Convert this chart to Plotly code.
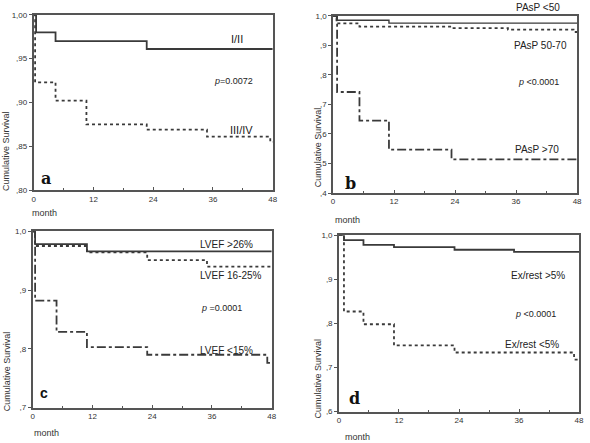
import plotly.graph_objects as go

W, H = 590, 443

# ---------------- data ----------------
# Panel a
a_t_12 = [0, 0.5, 4.4, 22.7, 48]
a_s_12 = [1.0, 0.980, 0.970, 0.961, 0.961]
a_t_34 = [0, 0.3, 4.4, 10.6, 22.7, 34.8, 47.5, 48]
a_s_34 = [1.0, 0.923, 0.902, 0.875, 0.869, 0.861, 0.855, 0.855]
# Panel b
b_t_lt50 = [0, 0.7, 11.0, 48]
b_s_lt50 = [1.0, 0.985, 0.975, 0.975]
b_t_5070 = [0, 0.7, 5.2, 23.3, 34.4, 47.3, 48]
b_s_5070 = [1.0, 0.974, 0.963, 0.958, 0.953, 0.945, 0.945]
b_t_gt70 = [0, 0.8, 5.2, 11.0, 23.3, 48]
b_s_gt70 = [1.0, 0.742, 0.645, 0.547, 0.514, 0.514]
# Panel c
c_t_gt26 = [0, 0.5, 10.9, 48]
c_s_gt26 = [1.0, 0.978, 0.966, 0.966]
c_t_1625 = [0, 0.5, 10.9, 23.0, 35.0, 48]
c_s_1625 = [1.0, 0.975, 0.964, 0.951, 0.940, 0.940]
c_t_lt15 = [0, 0.5, 4.8, 10.9, 23.0, 47.1, 48]
c_s_lt15 = [1.0, 0.882, 0.829, 0.803, 0.790, 0.776, 0.776]
# Panel d
d_t_gt5 = [0, 1.0, 4.9, 11.0, 23.1, 35.0, 48]
d_s_gt5 = [1.0, 0.989, 0.978, 0.973, 0.967, 0.962, 0.962]
d_t_lt5 = [0, 1.0, 4.9, 11.0, 23.1, 47.0, 48]
d_s_lt5 = [1.0, 0.827, 0.798, 0.750, 0.734, 0.718, 0.718]

x_ticks = [0, 12, 24, 36, 48]
a_yticks = [0.80, 0.85, 0.90, 0.95, 1.00]
a_ylabels = [",80", ",85", ",90", ",95", "1,00"]
b_yticks = [0.4, 0.5, 0.6, 0.7, 0.8, 0.9, 1.0]
b_ylabels = [",4", ",5", ",6", ",7", ",8", ",9", "1,0"]
c_yticks = [0.7, 0.8, 0.9, 1.0]
c_ylabels = [",7", ",8", ",9", "1,0"]
d_yticks = [0.6, 0.7, 0.8, 0.9, 1.0]
d_ylabels = [",6", ",7", ",8", ",9", "1,0"]

# ---------------- figure ----------------
LC = "#3a3a3a"
fig = go.Figure()

def step(t, s, dash, ax, width=1.8):
    xa = "x" if ax == 1 else f"x{ax}"
    ya = "y" if ax == 1 else f"y{ax}"
    fig.add_trace(go.Scatter(x=t, y=s, mode="lines", line_shape="hv",
                             line=dict(color=LC, width=width, dash=dash),
                             xaxis=xa, yaxis=ya, showlegend=False,
                             hoverinfo="skip", cliponaxis=False))

step(a_t_12, a_s_12, "solid", 1)
step(a_t_34, a_s_34, "dot", 1)
step(b_t_lt50, b_s_lt50, "solid", 2, 1.4)
step(b_t_5070, b_s_5070, "dot", 2)
step(b_t_gt70, b_s_gt70, "dashdot", 2)
step(c_t_gt26, c_s_gt26, "solid", 3)
step(c_t_1625, c_s_1625, "dot", 3)
step(c_t_lt15, c_s_lt15, "dashdot", 3)
step(d_t_gt5, d_s_gt5, "solid", 4)
step(d_t_lt5, d_s_lt5, "dot", 4)

def px_dom(x0, x1, y0, y1):
    return [x0 / W, x1 / W], [1 - y1 / H, 1 - y0 / H]

doms = [px_dom(32, 274, 11, 190), px_dom(335, 582, 12, 193),
        px_dom(31, 273, 232, 412), px_dom(341, 584, 236, 416)]
yinfo = [(a_yticks, a_ylabels), (b_yticks, b_ylabels),
         (c_yticks, c_ylabels), (d_yticks, d_ylabels)]

tickfont = dict(family="Liberation Sans, Arial", size=8, color="#333")
layout = dict(width=W, height=H, margin=dict(l=0, r=0, t=0, b=0),
              paper_bgcolor="white", plot_bgcolor="white")
for i, ((xd, yd), (yt, yl)) in enumerate(zip(doms, yinfo), start=1):
    k = "" if i == 1 else str(i)
    layout[f"xaxis{k}"] = dict(domain=xd, range=[0, 48], anchor=f"y{k}",
                               tickvals=x_ticks, ticks="inside", ticklen=3,
                               tickcolor="#555", showgrid=False, zeroline=False,
                               showline=True, mirror=True, linecolor="#555",
                               linewidth=1.6, tickfont=tickfont,
                               minor=dict(tickvals=[6, 18, 30, 42], ticks="inside",
                                          ticklen=2, tickcolor="#555"))
    layout[f"yaxis{k}"] = dict(domain=yd, range=[yt[0], yt[-1]], anchor=f"x{k}",
                               tickvals=yt, ticktext=yl, ticks="outside",
                               ticklen=3, tickcolor="#555", showgrid=False,
                               zeroline=False, showline=True, mirror=True,
                               linecolor="#555", linewidth=1.6, tickfont=tickfont)
fig.update_layout(**layout)

ann = []
lab = dict(family="Liberation Sans, Arial", size=10, color="#222")
pf = dict(family="Liberation Sans, Arial", size=9, color="#222")

def A(ax, x, y, text, font):
    k = "" if ax == 1 else str(ax)
    ann.append(dict(x=x, y=y, xref=f"x{k}", yref=f"y{k}", text=text,
                    showarrow=False, font=font, xanchor="center", yanchor="middle"))

def P(x, y, text, font, angle=0, xanchor="center"):
    ann.append(dict(x=x / W, y=1 - y / H, xref="paper", yref="paper", text=text,
                    showarrow=False, font=font, textangle=angle,
                    xanchor=xanchor, yanchor="middle"))

serif_b = dict(family="DejaVu Serif, Liberation Serif", size=16, color="#111")
# panel a
A(1, 40.9, 0.972, "I/II", dict(lab, size=11))
A(1, 40.1, 0.924, "<i>p</i>=0.0072", pf)
A(1, 41.7, 0.869, "III/IV", dict(lab, size=11))
A(1, 2.4, 0.813, "<b>a</b>", serif_b)
# panel b
P(542, 4, "PAsP <50", lab)
A(2, 40.8, 0.90, "PAsP 50-70", lab)
A(2, 40.4, 0.775, "<i>p</i> <0.0001", pf)
A(2, 40.2, 0.546, "PAsP >70", lab)
A(2, 3.5, 0.433, "<b>b</b>", serif_b)
# panel c
A(3, 38.9, 0.978, "LVEF >26%", lab)
A(3, 39.9, 0.925, "LVEF 16-25%", lab)
A(3, 37.9, 0.870, "<i>p</i> =0.0001", pf)
A(3, 38.9, 0.798, "LVEF <15%", lab)
A(3, 2.2, 0.725, "<b>c</b>", dict(family="Liberation Sans, Arial", size=14, color="#111"))
# panel d
A(4, 39.7, 0.909, "Ex/rest >5%", lab)
A(4, 39.3, 0.822, "<i>p</i> <0.0001", pf)
A(4, 38.5, 0.751, "Ex/rest <5%", lab)
A(4, 3.2, 0.629, "<b>d</b>", serif_b)

# axis titles
yt_font = dict(family="Liberation Sans, Arial", size=9, color="#333")
P(4, 150, "Cumulative Survival", yt_font, -90)
P(320, 146, "Cumulative Survival", yt_font, -90)
P(5, 375, "Cumulative Survival", yt_font, -90)
P(320, 382, "Cumulative Survival", yt_font, -90)
mf = dict(family="Liberation Sans, Arial", size=9, color="#333")
P(28, 213, "month", mf, xanchor="left")
P(335, 220, "month", mf, xanchor="left")
P(30, 438, "month", mf, xanchor="left")
P(345, 442, "month", mf, xanchor="left")

fig.update_layout(annotations=ann)
fig.write_html("out.html")
